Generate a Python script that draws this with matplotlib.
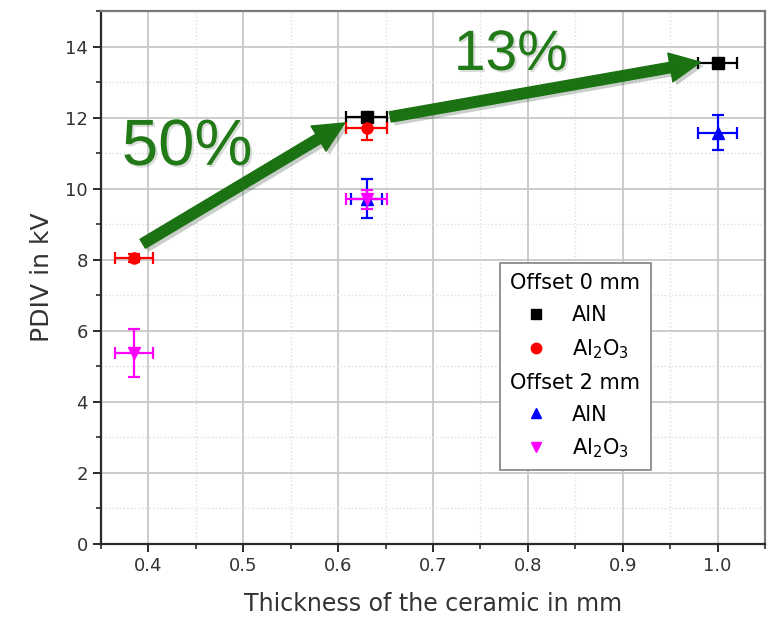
import numpy as np
import matplotlib
matplotlib.use('Agg')
import matplotlib.pyplot as plt
import matplotlib.patheffects as pe
from matplotlib.lines import Line2D
from matplotlib.ticker import MultipleLocator

# datos (espesor en mm, PDIV en kV)
esp_aln_0 = [0.63, 1.0]
pdiv_aln_0 = [12.02, 13.55]
xerr_aln_0 = [0.022, 0.021]
yerr_aln_0 = [0.1, 0.1]

esp_al2o3_0 = [0.385, 0.63]
pdiv_al2o3_0 = [8.05, 11.72]
xerr_al2o3_0 = [0.02, 0.022]
yerr_al2o3_0 = [0.1, 0.36]

esp_aln_2 = [0.63, 1.0]
pdiv_aln_2 = [9.72, 11.58]
xerr_aln_2 = [0.016, 0.021]
yerr_aln_2 = [0.55, 0.5]

esp_al2o3_2 = [0.385, 0.63]
pdiv_al2o3_2 = [5.37, 9.7]
xerr_al2o3_2 = [0.02, 0.022]
yerr_al2o3_2 = [0.68, 0.26]

# flechas de aumento y sus textos
flecha_ini = [(0.394, 8.45), (0.655, 12.02)]
flecha_fin = [(0.607, 11.85), (0.982, 13.56)]
textos = ['50%', '13%']
pos_textos = [(0.372, 10.67), (0.722, 13.34)]
tam_textos = [47, 41]

verde = '#1b7213'
verde_txt = '#217a17'

fig = plt.figure(figsize=(7.69, 6.23), dpi=100)
ax = fig.add_axes([101/769, 79/623, 664/769, 533/623])

ax.set_xlim(0.35, 1.05)
ax.set_ylim(0, 15)

ax.xaxis.set_major_locator(MultipleLocator(0.1))
ax.xaxis.set_minor_locator(MultipleLocator(0.05))
ax.yaxis.set_major_locator(MultipleLocator(2))
ax.yaxis.set_minor_locator(MultipleLocator(1))

ax.grid(which='major', color='#c8c8c8', lw=1.3, ls='-')
ax.grid(which='minor', color='#dedede', lw=1.0, ls=':')
ax.set_axisbelow(True)

for s in ['left', 'bottom']:
    ax.spines[s].set_color('#2a2a2a')
    ax.spines[s].set_linewidth(1.6)
for s in ['top', 'right']:
    ax.spines[s].set_color('#7a7a7a')
    ax.spines[s].set_linewidth(1.6)

ax.tick_params(which='major', direction='out', length=6, width=1.4, color='#2a2a2a', labelsize=13, labelcolor='#333333')
ax.tick_params(which='minor', direction='out', length=3.5, width=1.2, color='#2a2a2a')
ax.set_xticks(np.arange(0.4, 1.01, 0.1))
ax.set_xticklabels(['0.4', '0.5', '0.6', '0.7', '0.8', '0.9', '1.0'])

ax.set_xlabel('Thickness of the ceramic in mm', fontsize=17, color='#333333', labelpad=12)
ax.set_ylabel('PDIV in kV', fontsize=18, color='#333333', labelpad=8)

kw = dict(ls='none', markersize=8, capsize=4, elinewidth=1.6, capthick=1.6, zorder=3)
ax.errorbar(esp_aln_0, pdiv_aln_0, xerr=xerr_aln_0, yerr=yerr_aln_0, marker='s', color='black', **kw)
ax.errorbar(esp_al2o3_0, pdiv_al2o3_0, xerr=xerr_al2o3_0, yerr=yerr_al2o3_0, marker='o', color='red', **kw)
ax.errorbar(esp_aln_2, pdiv_aln_2, xerr=xerr_aln_2, yerr=yerr_aln_2, marker='^', color='blue', **kw)
ax.errorbar(esp_al2o3_2, pdiv_al2o3_2, xerr=xerr_al2o3_2, yerr=yerr_al2o3_2, marker='v', color='#ff00ff', **kw)

# flechas verdes con sombra suave
sombra = [pe.SimplePatchShadow(offset=(2.5, -2.5), alpha=0.22), pe.Normal()]
for ini, fin in zip(flecha_ini, flecha_fin):
    ax.annotate('', xy=fin, xytext=ini,
                arrowprops=dict(arrowstyle='simple,head_width=2.1,head_length=2.2,tail_width=0.75',
                                color=verde, mutation_scale=10, shrinkA=0, shrinkB=0,
                                path_effects=sombra), zorder=4)
for t, p, f in zip(textos, pos_textos, tam_textos):
    ax.text(p[0], p[1], t, fontsize=f, color=verde_txt, family='Liberation Sans',
            ha='left', va='baseline', zorder=4,
            path_effects=[pe.SimplePatchShadow(offset=(1.5, -1.5), alpha=0.15), pe.Normal()])

# leyenda con encabezados
cabeceras = ['Offset 0 mm', 'Offset 2 mm']
vacio = Line2D([], [], ls='none', marker='')
handles = [vacio,
           Line2D([], [], ls='none', marker='s', color='black', markersize=7),
           Line2D([], [], ls='none', marker='o', color='red', markersize=7.5),
           vacio,
           Line2D([], [], ls='none', marker='^', color='blue', markersize=7.5),
           Line2D([], [], ls='none', marker='v', color='#ff00ff', markersize=7.5)]
labels = [cabeceras[0], 'AlN', 'Al$_2$O$_3$', cabeceras[1], 'AlN', 'Al$_2$O$_3$']
leg = ax.legend(handles, labels, loc='upper left', bbox_to_anchor=((500-101)/664, (544-263)/533),
                borderaxespad=0, fontsize=15, frameon=True, fancybox=False, framealpha=1,
                edgecolor='#8a8a8a', handlelength=2.5, handletextpad=0.45, labelspacing=0.57,
                borderpad=0.5)
leg.get_frame().set_linewidth(1.3)
# los encabezados van sin hueco de simbolo
for col in leg._legend_handle_box.get_children():
    for fila in col.get_children():
        caja, texto = fila.get_children()
        if texto.get_text() in cabeceras:
            caja.width = 0
            fila.sep = 0

plt.savefig('out.png', dpi=100)
